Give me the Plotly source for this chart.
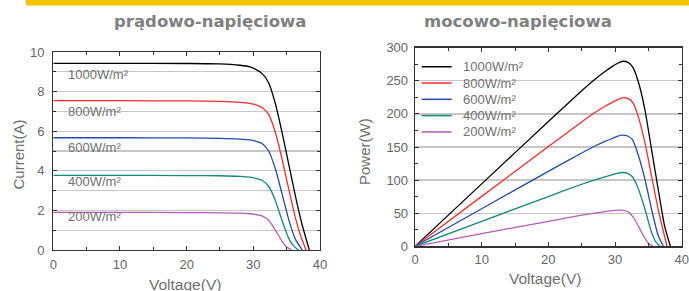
import plotly.graph_objects as go

# ---------------- data ----------------
labels = ["1000W/m²", "800W/m²", "600W/m²", "400W/m²", "200W/m²"]
colors = ["#000000", "#ff2a2a", "#2448b0", "#128a80", "#b35cb5"]

# I-V curves: voltage (V) and current (A)
iv_v_1000 = [0, 10, 20, 25, 28, 29.5, 30.5, 31.3, 32.3, 33.3, 34.3, 35.3, 36.3, 37.3, 38.4]
iv_i_1000 = [9.43, 9.43, 9.42, 9.40, 9.33, 9.25, 9.10, 8.92, 8.45, 7.40, 5.95, 4.35, 2.75, 1.30, 0]
iv_v_800 = [0, 10, 20, 25, 28, 29.5, 30.5, 31.3, 32.3, 33.3, 34.3, 35.3, 36.3, 37.1, 37.9]
iv_i_800 = [7.54, 7.54, 7.53, 7.51, 7.46, 7.40, 7.32, 7.20, 6.85, 5.95, 4.60, 3.10, 1.65, 0.72, 0]
iv_v_600 = [0, 10, 20, 25, 28, 29.5, 30.5, 31.3, 32.3, 33.3, 34.3, 35.3, 36.3, 37.35]
iv_i_600 = [5.67, 5.67, 5.66, 5.64, 5.60, 5.56, 5.48, 5.38, 5.00, 4.10, 2.85, 1.55, 0.55, 0]
iv_v_400 = [0, 10, 20, 25, 28, 29.5, 30.5, 31.3, 32.3, 33.3, 34.3, 35.3, 36.0, 36.75]
iv_i_400 = [3.77, 3.77, 3.76, 3.75, 3.72, 3.68, 3.61, 3.52, 3.22, 2.50, 1.50, 0.60, 0.22, 0]
iv_v_200 = [0, 10, 20, 25, 28, 29.5, 30.5, 31.3, 32.3, 33.3, 34.3, 35.0, 35.75]
iv_i_200 = [1.90, 1.90, 1.89, 1.88, 1.86, 1.83, 1.78, 1.72, 1.50, 1.00, 0.45, 0.15, 0]

# P-V curves: voltage (V) and power (W)
pv_v_1000 = [0, 10, 20, 25, 27, 28.5, 29.5, 30.4, 31.2, 32.0, 32.7, 33.45, 34.45, 35.45, 36.45, 37.45, 38.3]
pv_p_1000 = [0, 94.3, 188.4, 235, 252.5, 264, 271, 276.5, 279.5, 277.5, 270, 250, 208, 148, 87.6, 30, 0]
pv_v_800 = [0, 10, 20, 25, 27, 28.5, 29.5, 30.4, 31.2, 32.0, 32.7, 33.45, 34.45, 35.45, 36.45, 37.8]
pv_p_800 = [0, 75.4, 150.6, 187.8, 202, 211.5, 217, 221.5, 224.5, 223, 216.5, 197, 158, 108, 57, 0]
pv_v_600 = [0, 10, 20, 25, 27, 28.5, 29.5, 30.3, 31.0, 31.8, 32.6, 33.45, 34.45, 35.45, 36.45, 37.25]
pv_p_600 = [0, 56.7, 113.2, 141, 151.5, 158.5, 162.5, 166, 168, 167, 161.5, 139, 102.7, 57.4, 17, 0]
pv_v_400 = [0, 10, 20, 25, 27, 28.5, 29.5, 30.3, 31.0, 31.8, 32.6, 33.45, 34.45, 35.45, 36.1, 36.75]
pv_p_400 = [0, 37.7, 75.2, 93.75, 100.5, 105, 108, 110.2, 111.5, 110.5, 105, 88, 57.4, 22, 7, 0]
pv_v_200 = [0, 10, 20, 25, 27, 28.5, 29.5, 30.5, 31.3, 32.1, 32.95, 33.95, 34.95, 35.7]
pv_p_200 = [0, 19, 37.8, 47, 50.2, 52.5, 53.8, 54.5, 54.2, 51, 40.5, 22, 5, 0]

iv_v = [iv_v_1000, iv_v_800, iv_v_600, iv_v_400, iv_v_200]
iv_i = [iv_i_1000, iv_i_800, iv_i_600, iv_i_400, iv_i_200]
pv_v = [pv_v_1000, pv_v_800, pv_v_600, pv_v_400, pv_v_200]
pv_p = [pv_p_1000, pv_p_800, pv_p_600, pv_p_400, pv_p_200]

titles = ["prądowo-napięciowa", "mocowo-napięciowa"]
x_title = "Voltage(V)"
y_titles = ["Current(A)", "Power(W)"]

# ---------------- layout helpers ----------------
W, H = 689, 291
def px(x):
    return x / W
def py(y):
    return 1 - y / H

FONT = "Liberation Sans, Arial, sans-serif"
GREY = "#707070"
TICKGREY = "#666666"

fig = go.Figure()

for k in range(5):
    fig.add_trace(go.Scatter(x=iv_v[k], y=iv_i[k], mode="lines", xaxis="x", yaxis="y",
                             line=dict(color=colors[k], width=1.3, shape="spline", smoothing=0.6),
                             showlegend=False, hoverinfo="skip"))
for k in range(5):
    fig.add_trace(go.Scatter(x=pv_v[k], y=pv_p[k], mode="lines", xaxis="x2", yaxis="y2",
                             line=dict(color=colors[k], width=1.3, shape="spline", smoothing=0.6),
                             showlegend=False, hoverinfo="skip"))

axis_common = dict(showline=True, linecolor="#333333", linewidth=1.3, mirror="ticks",
                   ticks="inside", ticklen=4, tickcolor="#333333", tickwidth=1,
                   zeroline=False, tickfont=dict(family=FONT, size=13, color=TICKGREY),
                   fixedrange=True, automargin=False)

fig.update_layout(
    width=W, height=H,
    margin=dict(l=0, r=0, t=0, b=0, pad=0, autoexpand=False),
    paper_bgcolor="white", plot_bgcolor="white",
    showlegend=False,
    xaxis=dict(domain=[px(53.3), px(320)], range=[0, 40], dtick=10, showgrid=False,
               minor=dict(dtick=5, ticks="inside", ticklen=3, tickcolor="#333333"),
               ticklabelstandoff=2, anchor="y", **axis_common),
    yaxis=dict(domain=[py(250), py(52)], range=[0, 10], dtick=2, showgrid=True,
               gridcolor="#c6c6c6", gridwidth=1.3,
               minor=dict(dtick=1, ticks="inside", ticklen=3, tickcolor="#333333",
                          showgrid=True, gridcolor="#c6c6c6", gridwidth=1.3),
               ticklabelstandoff=5, anchor="x", **axis_common),
    xaxis2=dict(domain=[px(415), px(681.7)], range=[0, 40], dtick=10, showgrid=False,
                minor=dict(dtick=5, ticks="inside", ticklen=3, tickcolor="#333333"),
                ticklabelstandoff=1, anchor="y2", **axis_common),
    yaxis2=dict(domain=[py(246.3), py(47.7)], range=[0, 300], dtick=50, showgrid=True,
                gridcolor="#c6c6c6", gridwidth=1.3,
                minor=dict(dtick=25, ticks="inside", ticklen=3, tickcolor="#333333"),
                ticklabelstandoff=3, anchor="x2", **axis_common),
)

shapes = [dict(type="rect", xref="paper", yref="paper", x0=px(26), x1=1, y0=py(5.5), y1=1,
               fillcolor="#f3c300", line=dict(width=0), layer="above")]
annotations = []

# titles
for t, cx in zip(titles, [210, 518]):
    annotations.append(dict(text=t, x=px(cx), y=py(22), xref="paper", yref="paper",
                            showarrow=False, xanchor="center", yanchor="middle",
                            font=dict(family="DejaVu Sans, sans-serif", size=16.5, color="#808080",
                                      weight="bold")))
# axis titles
annotations.append(dict(text=x_title, x=px(185), y=py(284), xref="paper", yref="paper",
                        showarrow=False, xanchor="center", yanchor="middle",
                        font=dict(family=FONT, size=15.5, color=GREY)))
annotations.append(dict(text=x_title, x=px(545), y=py(278), xref="paper", yref="paper",
                        showarrow=False, xanchor="center", yanchor="middle",
                        font=dict(family=FONT, size=15.5, color=GREY)))
annotations.append(dict(text=y_titles[0], x=px(17.5), y=py(155), xref="paper", yref="paper",
                        showarrow=False, xanchor="center", yanchor="middle", textangle=-90,
                        font=dict(family=FONT, size=15, color=GREY)))
annotations.append(dict(text=y_titles[1], x=px(364), y=py(152), xref="paper", yref="paper",
                        showarrow=False, xanchor="center", yanchor="middle", textangle=-90,
                        font=dict(family=FONT, size=15, color=GREY)))

# labels inside the I-V chart
label_y = [8.84, 7.0, 5.2, 3.45, 1.68]
for lab, ly in zip(labels, label_y):
    annotations.append(dict(text=lab, x=1.9, y=ly, xref="x", yref="y", showarrow=False,
                            xanchor="left", yanchor="middle",
                            font=dict(family=FONT, size=13, color=GREY)))

# legend inside the P-V chart
leg_y = [0.904, 0.822, 0.740, 0.658, 0.576]
for lab, col, ly in zip(labels, colors, leg_y):
    shapes.append(dict(type="line", xref="x2 domain", yref="y2 domain", x0=0.025, x1=0.1375,
                       y0=ly, y1=ly, line=dict(color=col, width=1.5)))
    annotations.append(dict(text=lab, x=0.172, y=ly, xref="x2 domain", yref="y2 domain",
                            showarrow=False, xanchor="left", yanchor="middle",
                            font=dict(family=FONT, size=13, color=GREY)))

fig.update_layout(shapes=shapes, annotations=annotations)
fig.write_html(
    "out.html",
    config={"displayModeBar": False, "staticPlot": True},
    post_script="document.body.style.margin='0';document.body.style.overflow='hidden';",
)
